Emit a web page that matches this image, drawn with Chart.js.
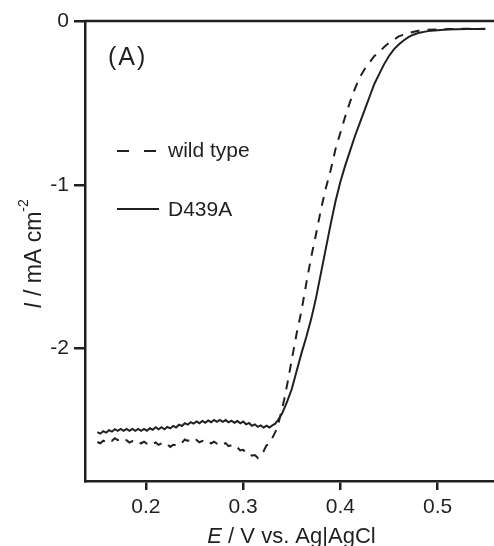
<!DOCTYPE html>
<html>
<head>
<meta charset="utf-8">
<script src="https://cdn.jsdelivr.net/npm/chart.js@4.4.1/dist/chart.umd.min.js"></script>
<style>
  html, body { margin: 0; padding: 0; background: #fff; }
  #wrap { width: 494px; height: 546px; position: relative; }
</style>
</head>
<body>
<div id="wrap"><canvas id="chart"></canvas></div>
<script>
// E in V vs. Ag|AgCl, I in mA cm^-2
const wildE = [
  0.150,0.153,0.156,0.159,0.162,0.165,0.168,0.171,0.174,0.177,
  0.180,0.183,0.186,0.189,0.192,0.195,0.198,0.201,0.204,0.207,
  0.210,0.213,0.216,0.219,0.222,0.225,0.228,0.231,0.234,0.237,
  0.240,0.243,0.246,0.249,0.252,0.255,0.258,0.261,0.264,0.267,
  0.270,0.273,0.276,0.279,0.282,0.285,0.288,0.291,0.294,0.297,
  0.300,0.303,0.306,0.309,0.312,0.315,0.318,0.321,0.324,0.327,
  0.330,
  0.335,0.338,0.342,0.346,0.350,0.355,0.360,0.365,0.370,0.375,
  0.380,0.385,0.390,0.395,0.400,0.405,0.410,0.415,0.420,0.425,
  0.430,0.435,0.440,0.445,0.450,0.455,0.460,0.470,0.480,0.490,
  0.500,0.513,0.530,0.549
];
const wildI = [
  -2.574,-2.582,-2.566,-2.575,-2.559,-2.567,-2.551,-2.562,-2.555,-2.571,
  -2.563,-2.578,-2.569,-2.581,-2.570,-2.583,-2.572,-2.584,-2.573,-2.586,
  -2.577,-2.592,-2.583,-2.598,-2.589,-2.604,-2.591,-2.595,-2.575,-2.579,
  -2.559,-2.567,-2.557,-2.572,-2.562,-2.576,-2.567,-2.581,-2.570,-2.583,
  -2.572,-2.584,-2.573,-2.587,-2.581,-2.600,-2.594,-2.613,-2.607,-2.626,
  -2.622,-2.642,-2.638,-2.658,-2.654,-2.671,-2.639,-2.631,-2.594,-2.586,
  -2.549,
  -2.49,-2.42,-2.32,-2.20,-2.07,-1.91,-1.77,-1.60,-1.44,-1.30,
  -1.15,-1.02,-0.91,-0.78,-0.68,-0.58,-0.49,-0.41,-0.34,-0.29,
  -0.25,-0.21,-0.185,-0.155,-0.13,-0.11,-0.09,-0.07,-0.056,-0.05,
  -0.047,-0.045,-0.043,-0.045
];
const mutE = [
  0.150,0.153,0.156,0.159,0.162,0.165,0.168,0.171,0.174,0.177,
  0.180,0.183,0.186,0.189,0.192,0.195,0.198,0.201,0.204,0.207,
  0.210,0.213,0.216,0.219,0.222,0.225,0.228,0.231,0.234,0.237,
  0.240,0.243,0.246,0.249,0.252,0.255,0.258,0.261,0.264,0.267,
  0.270,0.273,0.276,0.279,0.282,0.285,0.288,0.291,0.294,0.297,
  0.300,0.303,0.306,0.309,0.312,0.315,0.318,0.321,0.324,0.327,
  0.330,0.333,0.336,
  0.340,0.345,0.350,0.355,0.360,0.365,0.370,0.375,0.380,0.385,
  0.390,0.395,0.400,0.405,0.410,0.415,0.420,0.425,0.430,0.435,
  0.440,0.445,0.450,0.455,0.460,0.465,0.470,0.475,0.480,0.490,
  0.500,0.510,0.520,0.530,0.540,0.549
];
const mutI = [
  -2.514,-2.523,-2.508,-2.517,-2.502,-2.511,-2.496,-2.506,-2.494,-2.506,
  -2.494,-2.506,-2.494,-2.506,-2.494,-2.506,-2.494,-2.505,-2.490,-2.499,
  -2.484,-2.496,-2.484,-2.496,-2.482,-2.491,-2.476,-2.485,-2.468,-2.476,
  -2.459,-2.468,-2.453,-2.462,-2.448,-2.459,-2.445,-2.456,-2.442,-2.453,
  -2.439,-2.451,-2.439,-2.451,-2.440,-2.454,-2.443,-2.456,-2.446,-2.460,
  -2.449,-2.466,-2.458,-2.475,-2.466,-2.481,-2.472,-2.486,-2.474,-2.485,
  -2.472,-2.462,-2.438,
  -2.40,-2.33,-2.25,-2.14,-2.03,-1.93,-1.82,-1.69,-1.54,-1.39,
  -1.24,-1.10,-0.98,-0.88,-0.79,-0.70,-0.62,-0.54,-0.46,-0.38,
  -0.32,-0.26,-0.21,-0.17,-0.14,-0.115,-0.095,-0.08,-0.07,-0.058,
  -0.052,-0.048,-0.046,-0.045,-0.045,-0.044
];
const seriesLabels = ['wild type', 'D439A'];
const xTicks = [0.2, 0.3, 0.4, 0.5];
const yTicks = [0, -1, -2];
const panelLabel = '(A)';

const FONT = '"Liberation Sans", Arial, Helvetica, sans-serif';
const ink = '#231f20';

Chart.defaults.font.family = FONT;
Chart.defaults.color = ink;

const pts = (xs, ys) => xs.map((x, i) => ({ x, y: ys[i] }));

// draw a run of text pieces (different fonts / raised) from x along baseline y
function runWidth(ctx, parts) {
  return parts.reduce((w, p) => { ctx.font = p.font; return w + ctx.measureText(p.text).width; }, 0);
}
function drawRun(ctx, parts, x, y) {
  parts.forEach(p => {
    ctx.font = p.font;
    ctx.fillText(p.text, x, y - (p.rise || 0));
    x += ctx.measureText(p.text).width;
  });
}

const decorations = {
  id: 'decorations',
  afterDraw(chart) {
    const { ctx, chartArea: a } = chart;
    ctx.save();
    ctx.strokeStyle = ink;
    ctx.fillStyle = ink;

    // top frame line
    ctx.lineWidth = 2.5;
    ctx.beginPath();
    ctx.moveTo(a.left - 1.25, a.top);
    ctx.lineTo(a.right, a.top);
    ctx.stroke();

    // panel label
    ctx.textBaseline = 'alphabetic';
    ctx.textAlign = 'left';
    ctx.font = `25px ${FONT}`;
    ctx.letterSpacing = '2px';
    ctx.fillText(panelLabel, 108, 65);
    ctx.letterSpacing = '0px';

    // legend
    const rows = [{ y: 151, base: 157 }, { y: 209, base: 216 }];
    chart.data.datasets.forEach((ds, i) => {
      const r = rows[i];
      ctx.lineWidth = 2;
      ctx.setLineDash(ds.borderDash ? [12, 15] : []);
      ctx.beginPath();
      ctx.moveTo(117, r.y);
      ctx.lineTo(159, r.y);
      ctx.stroke();
      ctx.setLineDash([]);
      ctx.font = `21px ${FONT}`;
      ctx.fillText(ds.label, 168, r.base);
    });

    // x axis title
    const xParts = [
      { text: 'E', font: `italic 22px ${FONT}` },
      { text: ' / V vs. Ag|AgCl', font: `22px ${FONT}` }
    ];
    const xw = runWidth(ctx, xParts);
    drawRun(ctx, xParts, (a.left + a.right) / 2 - xw / 2 + 2, 543);

    // y axis title (rotated)
    const yParts = [
      { text: 'I', font: `italic 23px ${FONT}` },
      { text: ' / mA cm', font: `23px ${FONT}` },
      { text: '-2', font: `14px ${FONT}`, rise: 13 }
    ];
    const yw = runWidth(ctx, yParts);
    ctx.translate(41, 254 + yw / 2);
    ctx.rotate(-Math.PI / 2);
    drawRun(ctx, yParts, 0, 0);
    ctx.restore();
  }
};

const axisGrid = (len) => ({
  drawOnChartArea: false,
  drawTicks: true,
  tickLength: len,
  tickWidth: 2.5,
  tickColor: ink,
  lineWidth: 2.5,
  color: ink
});

new Chart(document.getElementById('chart'), {
  type: 'line',
  data: {
    datasets: [
      {
        label: seriesLabels[0],
        data: pts(wildE, wildI),
        borderColor: ink,
        borderWidth: 2,
        borderDash: [9, 8],
        pointRadius: 0,
        tension: 0
      },
      {
        label: seriesLabels[1],
        data: pts(mutE, mutI),
        borderColor: ink,
        borderWidth: 2,
        pointRadius: 0,
        tension: 0
      }
    ]
  },
  options: {
    responsive: true,
    maintainAspectRatio: false,
    animation: false,
    layout: { padding: { top: 21, left: 0, right: 0, bottom: 0 } },
    plugins: { legend: { display: false }, tooltip: { enabled: false } },
    scales: {
      x: {
        type: 'linear',
        min: 0.1373,
        max: 0.558,
        afterFit: s => { s.height = 65; },
        afterBuildTicks: s => { s.ticks = xTicks.map(v => ({ value: v })); },
        ticks: { font: { size: 21, lineHeight: 1.2 }, color: ink, padding: 5, maxRotation: 0, callback: v => v.toFixed(1) },
        grid: axisGrid(9),
        border: { display: true, color: ink, width: 2.5 }
      },
      y: {
        min: -2.813,
        max: 0.004,
        afterFit: s => { s.width = 85; },
        afterBuildTicks: s => { s.ticks = yTicks.map(v => ({ value: v })); },
        ticks: { font: { size: 21 }, color: ink, padding: 5, callback: v => String(v) },
        grid: axisGrid(11),
        border: { display: true, color: ink, width: 2.5 }
      }
    }
  },
  plugins: [decorations]
});
</script>
</body>
</html>
